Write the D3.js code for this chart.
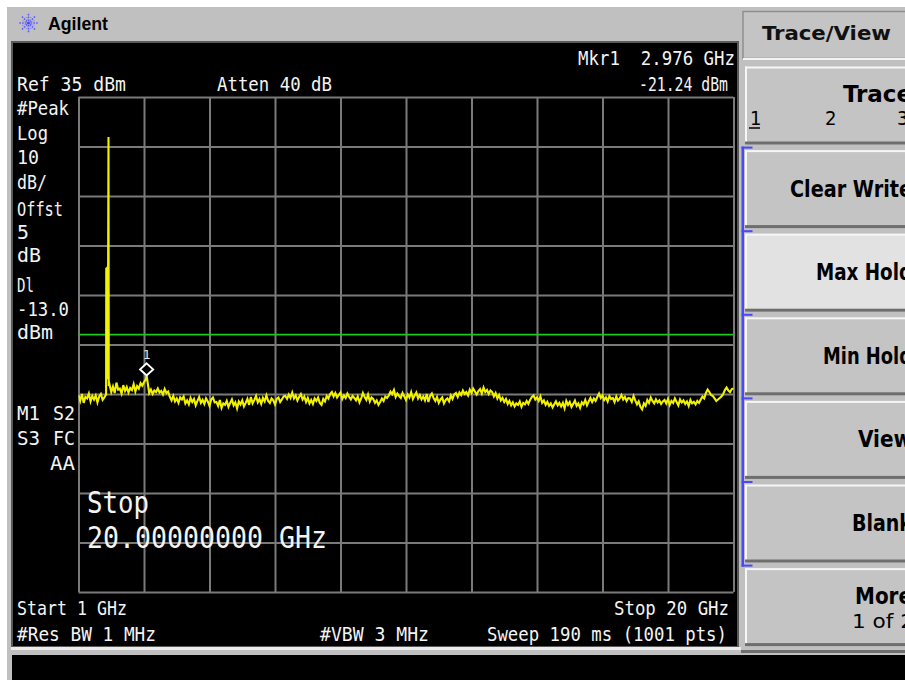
<!DOCTYPE html>
<html><head><meta charset="utf-8">
<script src="https://cdn.jsdelivr.net/npm/d3@7"></script>
<style>
html,body{margin:0;padding:0;background:#fff;overflow:hidden}
svg{display:block}
</style></head><body>
<svg id="c" width="905" height="680"></svg>
<script>
// ---------- data ----------
const startGHz = 1, stopGHz = 20, stepGHz = 0.05;
const refLevel = 35, dbPerDiv = 10, nDiv = 10;
const displayLineDbm = -13.0;
const traceValues = [
-25.2,-26.4,-25.0,-26.8,-25.6,-25.9,-24.9,-26.5,-25.4,-26.1,-25.3,-26.7,-25.5,-25.0,-26.2,-25.7,-25.1,-24.2,-23.1,-24.6,
-23.5,-24.8,-22.7,-24.1,-23.9,-24.9,-23.2,-24.4,-23.6,-24.7,-23.8,-24.2,-23.0,-24.5,-23.4,-23.9,-22.8,-23.3,-22.6,-22.1,
-22.4,-24.8,-24.1,-25.0,-24.3,-24.6,-23.9,-24.7,-24.4,-25.1,-24.0,-24.8,-24.5,-25.6,-26.3,-25.4,-26.5,-25.9,-26.8,-25.7,
-26.1,-25.5,-26.9,-26.3,-27.1,-25.8,-26.6,-26.0,-27.3,-26.4,-25.6,-26.8,-26.2,-27.0,-25.9,-26.5,-27.4,-26.1,-25.7,-26.7,
-26.6,-27.4,-26.2,-27.8,-26.9,-27.2,-26.4,-27.6,-26.8,-26.1,-27.3,-26.7,-27.9,-26.5,-27.1,-26.3,-27.5,-26.8,-26.0,-27.2,
-25.6,-26.9,-26.2,-25.4,-26.7,-26.0,-27.0,-25.8,-26.5,-25.3,-26.4,-26.8,-25.9,-26.3,-27.1,-26.0,-25.7,-26.6,-26.1,-25.5,
-25.4,-26.0,-25.1,-25.8,-24.7,-25.9,-25.3,-26.3,-25.6,-25.0,-26.1,-25.5,-26.6,-25.8,-26.9,-26.2,-27.0,-25.9,-26.4,-25.7,
-26.8,-27.2,-26.0,-26.5,-25.4,-25.9,-25.0,-24.6,-25.5,-24.8,-25.7,-25.2,-24.7,-26.0,-25.3,-25.8,-24.9,-25.6,-26.1,-25.4,
-25.8,-26.3,-25.5,-26.7,-25.9,-24.8,-25.6,-26.2,-25.1,-26.5,-25.7,-26.0,-26.8,-26.3,-27.2,-26.6,-25.9,-26.4,-25.5,-25.8,
-25.3,-24.5,-25.0,-24.2,-25.6,-24.9,-25.4,-25.8,-24.8,-25.5,-26.2,-25.1,-25.7,-24.6,-26.0,-25.3,-24.7,-25.9,-25.2,-26.1,
-25.5,-26.3,-25.0,-26.6,-25.4,-24.9,-25.8,-26.4,-25.6,-26.8,-26.1,-25.7,-26.9,-26.2,-25.9,-26.5,-25.3,-26.0,-25.1,-24.8,
-25.6,-24.7,-25.2,-24.3,-25.0,-24.6,-25.3,-24.1,-24.8,-23.9,-24.5,-25.1,-24.4,-24.0,-24.9,-23.7,-24.6,-24.2,-25.0,-24.3,
-24.6,-25.5,-24.8,-25.9,-25.2,-26.3,-25.8,-26.6,-26.0,-27.0,-26.4,-27.3,-26.7,-27.5,-26.9,-27.2,-26.5,-27.6,-26.8,-27.1,
-26.4,-27.0,-26.2,-25.6,-25.3,-26.1,-25.7,-26.4,-25.5,-26.8,-26.3,-27.2,-26.6,-27.4,-26.9,-27.7,-27.1,-26.5,-27.3,-26.8,
-27.5,-26.8,-27.9,-26.4,-27.2,-26.6,-27.6,-27.0,-26.3,-27.4,-26.9,-27.8,-26.7,-27.1,-26.2,-27.3,-26.5,-25.8,-26.6,-25.9,
-26.4,-25.6,-24.9,-25.8,-25.3,-26.2,-25.7,-26.5,-25.4,-26.0,-25.8,-26.6,-25.5,-26.3,-25.9,-25.2,-26.1,-25.6,-26.4,-25.8,
-25.9,-26.6,-25.4,-26.3,-27.1,-26.5,-27.6,-28.1,-26.9,-27.4,-26.2,-26.8,-25.7,-26.4,-26.9,-26.1,-26.7,-26.3,-27.0,-26.5,
-26.2,-26.9,-26.0,-27.2,-26.4,-26.8,-25.9,-26.6,-27.3,-26.1,-26.7,-26.3,-27.0,-26.5,-27.4,-26.2,-26.9,-26.6,-27.1,-26.4,
-26.8,-26.1,-25.5,-25.9,-24.8,-24.1,-24.6,-25.2,-25.4,-25.9,-26.4,-26.1,-25.8,-25.5,-25.0,-24.2,-23.7,-24.3,-24.6,-24.0,
-23.9
];
const spikeFreqs  = [1.805, 1.820, 1.835, 1.850, 1.870, 1.878];
const spikeValues = [0.5, -22.0, 0.7, -21.0, 26.9, -23.4];
const markerFreq = 2.976, markerValue = -21.24, markerName = "1";

const headerLeft = ["Ref 35 dBm", "Atten 40 dB"];
const markerReadout = ["Mkr1  2.976 GHz", "-21.24 dBm"];
const sideLabels = ["#Peak","Log","10","dB/","Offst","5","dB","Dl","-13.0","dBm"];
const statusLabels = [["M1","S2"],["S3","FC"],["","AA"]];
const footerLabels = ["Start 1 GHz", "Stop 20 GHz", "#Res BW 1 MHz", "#VBW 3 MHz", "Sweep 190 ms (1001 pts)"];
const activeFunction = ["Stop", "20.00000000 GHz"];
const menuTitle = "Trace/View";
const softkeyLabels = ["Trace","Clear Write","Max Hold","Min Hold","View","Blank","More"];
const softkeySub = ["","","","","","","1 of 2"];
const traceNumbers = ["1","2","3"];

// ---------- drawing ----------
const svg = d3.select("#c");
const monoFont = "'DejaVu Sans Mono','Liberation Mono',monospace";
const keyFont = "'DejaVu Sans Condensed','DejaVu Sans','Liberation Sans',sans-serif";

// backgrounds
svg.append("rect").attr("x",0).attr("y",0).attr("width",905).attr("height",680).attr("fill","#ffffff");
svg.append("rect").attr("x",7).attr("y",7).attr("width",898).attr("height",673).attr("fill","#c0c0c0");
svg.append("rect").attr("x",12).attr("y",655).attr("width",893).attr("height",25).attr("fill","#000");

// Agilent logo
const logo = svg.append("g").attr("transform","translate(28.5,23)");
d3.range(8).forEach(i => {
  const a = i * Math.PI / 4;
  logo.append("line").attr("x1",Math.cos(a)*2).attr("y1",Math.sin(a)*2)
    .attr("x2",Math.cos(a)*10).attr("y2",Math.sin(a)*10)
    .attr("stroke","#5a5aff").attr("stroke-width",1.6).attr("stroke-dasharray","1.6,1.2");
});
d3.range(8).forEach(i => {
  const a = i * Math.PI / 4 + Math.PI/8;
  logo.append("line").attr("x1",Math.cos(a)*3).attr("y1",Math.sin(a)*3)
    .attr("x2",Math.cos(a)*6.5).attr("y2",Math.sin(a)*6.5)
    .attr("stroke","#8080ff").attr("stroke-width",1.2).attr("stroke-dasharray","1.2,1.2");
});
logo.append("circle").attr("r",1.5).attr("fill","#4040ff");
svg.append("text").attr("x",48).attr("y",30).attr("font-family","'Liberation Sans',Arial,sans-serif")
  .attr("font-weight","bold").attr("font-size",19).attr("textLength",60).attr("lengthAdjust","spacingAndGlyphs")
  .attr("fill","#000").text("Agilent");

// display frame
svg.append("rect").attr("x",11).attr("y",41).attr("width",728).attr("height",607).attr("fill","#5a5a5a");
svg.append("rect").attr("x",13).attr("y",43).attr("width",724).attr("height",603).attr("fill","#000");
svg.append("rect").attr("x",11).attr("y",647).attr("width",730).attr("height",3).attr("fill","#ececec");

// scales
const x = d3.scaleLinear().domain([startGHz, stopGHz]).range([78.5, 733.5]);
const y = d3.scaleLinear().domain([refLevel - dbPerDiv*nDiv, refLevel]).range([592, 97]);
const gridFreqs = d3.range(nDiv+1).map(i => startGHz + i*(stopGHz-startGHz)/nDiv);
const gridLevels = d3.range(nDiv+1).map(i => refLevel - i*dbPerDiv);
const gridColor = "#7a7a7a";

svg.append("g").attr("transform",`translate(0,${y.range()[0]})`)
  .call(d3.axisBottom(x).tickValues(gridFreqs).tickSize(-(y.range()[0]-y.range()[1])).tickFormat(""))
  .call(g => g.select(".domain").remove())
  .call(g => g.selectAll("line").attr("stroke",gridColor).attr("stroke-width",2));
svg.append("g").attr("transform",`translate(${x.range()[0]},0)`)
  .call(d3.axisLeft(y).tickValues(gridLevels).tickSize(-(x.range()[1]-x.range()[0])).tickFormat(""))
  .call(g => g.select(".domain").remove())
  .call(g => g.selectAll("line").attr("stroke",gridColor).attr("stroke-width",2));

// display line
svg.append("line").attr("x1",x(startGHz)).attr("x2",x(stopGHz))
  .attr("y1",y(displayLineDbm)).attr("y2",y(displayLineDbm))
  .attr("stroke","#1ec81e").attr("stroke-width",1.6);

// trace
svg.append("clipPath").attr("id","plotclip").append("rect")
  .attr("x",x(startGHz)).attr("y",y(refLevel)-1).attr("width",x(stopGHz)-x(startGHz)+1).attr("height",y.range()[0]-y.range()[1]+2);
let pts = traceValues.map((v,i) => ({f: startGHz + i*stepGHz, v}));
const spikeLo = d3.min(spikeFreqs), spikeHi = d3.max(spikeFreqs);
pts = pts.filter(p => !(p.f > spikeLo - 0.001 && p.f < spikeHi + 0.02));
spikeFreqs.forEach((f,i) => pts.push({f, v: spikeValues[i]}));
pts.push({f: markerFreq, v: markerValue});
pts.sort((a,b) => a.f - b.f);
svg.append("path").datum(pts).attr("clip-path","url(#plotclip)")
  .attr("fill","none").attr("stroke","#f2f200").attr("stroke-width",2.1).attr("stroke-linejoin","miter")
  .attr("d", d3.line().x(d => x(d.f)).y(d => y(d.v)));

// marker
const mx = x(markerFreq), my = y(markerValue);
svg.append("path").attr("d",`M${mx},${my-12}L${mx+6.5},${my-6}L${mx},${my}L${mx-6.5},${my-6}Z`)
  .attr("fill","#000").attr("stroke","#ffffff").attr("stroke-width",2);
svg.append("text").attr("x",mx).attr("y",my-16.5).attr("text-anchor","middle")
  .attr("font-family",monoFont).attr("font-size",13).attr("fill","#e0e0e0").text(markerName);

// display text helper
function dtext(str, xx, yy, w, size) {
  const t = svg.append("text").attr("x",xx).attr("y",yy).attr("font-family",monoFont)
    .attr("font-size",size||19).attr("fill","#f4f4f4").attr("xml:space","preserve").text(str);
  if (w) t.attr("textLength",w).attr("lengthAdjust","spacingAndGlyphs");
  return t;
}
// header
dtext(headerLeft[0], 17, 91, 109);
dtext(headerLeft[1], 217, 91, 115);
dtext(markerReadout[0], 578, 65, 157);
dtext(markerReadout[1], 639, 91, 89);

// left side
const sideY = [115,140,164,189,216,239,262,292,316,339];
const sideW = [52,31,22,30,46,12,24,17,52,36];
sideLabels.forEach((s,i) => dtext(s, 17, sideY[i], sideW[i]));
const statusY = [420,445,470];
statusLabels.forEach((pair,i) => {
  if (pair[0]) dtext(pair[0], 17, statusY[i], 23);
  if (pair[1]) dtext(pair[1], pair[0] ? 53 : 50, statusY[i], pair[0] ? 22 : 25);
});

// footer
dtext(footerLabels[0], 17, 615, 110);
dtext(footerLabels[1], 614, 615, 115);
dtext(footerLabels[2], 17, 641, 139);
dtext(footerLabels[3], 320, 641, 109);
dtext(footerLabels[4], 487, 641, 240);

// active function
dtext(activeFunction[0], 87, 513, 62, 31);
dtext(activeFunction[1], 87, 548, 240, 31);

// ---------- softkey panel ----------
// title box
svg.append("rect").attr("x",743).attr("y",11.5).attr("width",170).attr("height",47)
  .attr("fill","#c4c4c4").attr("stroke","#8e8e8e").attr("stroke-width",1.5);
svg.append("rect").attr("x",743).attr("y",58).attr("width",170).attr("height",2).attr("fill","#f4f4f4");
svg.append("text").attr("x",762).attr("y",39.5).attr("font-family",keyFont).attr("font-size",20)
  .attr("font-weight","bold").attr("textLength",129).attr("lengthAdjust","spacingAndGlyphs").attr("fill","#111").text(menuTitle);

// keys
const keyTop0 = 66.5, keyPitch = 83.6, keyH = 78;
const keyTextX = [843, 790, 816, 823, 858, 852, 855];
softkeyLabels.forEach((lab,i) => {
  const top = keyTop0 + i*keyPitch;
  const g = svg.append("g");
  g.append("rect").attr("x",745).attr("y",top).attr("width",170).attr("height",keyH)
    .attr("fill", i === 2 ? "#e2e2e2" : "#c4c4c4");
  g.append("rect").attr("x",745).attr("y",top).attr("width",170).attr("height",2).attr("fill","#f6f6f6");
  g.append("rect").attr("x",745).attr("y",top).attr("width",2).attr("height",keyH).attr("fill","#f6f6f6");
  g.append("rect").attr("x",745).attr("y",top+keyH-3).attr("width",170).attr("height",3).attr("fill","#6e6e6e");
  const hasSub = softkeySub[i] !== "";
  const baseY = i === 0 ? top + 35.5 : (hasSub ? top + 35.5 : top + 46.5);
  g.append("text").attr("x",keyTextX[i]).attr("y",baseY).attr("font-family",keyFont)
    .attr("font-weight","bold").attr("font-size",23)
    .attr("textLength",912 - keyTextX[i]).attr("lengthAdjust","spacingAndGlyphs")
    .attr("fill","#000").text(lab);
  if (hasSub) {
    g.append("text").attr("x",852).attr("y",top+60).attr("font-family",keyFont)
      .attr("font-size",20).attr("textLength",62).attr("lengthAdjust","spacingAndGlyphs")
      .attr("fill","#000").text(softkeySub[i]);
  }
});
// trace numbers on first key
const tnX = [750, 825, 897];
traceNumbers.forEach((n,i) => {
  svg.append("text").attr("x",tnX[i]).attr("y",keyTop0+58).attr("font-family",keyFont)
    .attr("font-size",20).attr("fill","#000").text(n);
});
svg.append("line").attr("x1",749).attr("x2",760).attr("y1",keyTop0+61.5).attr("y2",keyTop0+61.5)
  .attr("stroke","#000").attr("stroke-width",1.5);

// blue bracket
const bracketTicks = d3.range(1,7).map(i => keyTop0 + i*keyPitch - 3.5);
svg.append("rect").attr("x",741.5).attr("y",bracketTicks[0]).attr("width",2.5)
  .attr("height",bracketTicks[5]-bracketTicks[0]+2).attr("fill","#4848ff");
bracketTicks.forEach(t => svg.append("rect").attr("x",741.5).attr("y",t).attr("width",11).attr("height",2).attr("fill","#4848ff"));

// bottom line of softkey panel
svg.append("rect").attr("x",741).attr("y",650).attr("width",164).attr("height",3).attr("fill","#6e6e6e");
</script>
</body></html>
